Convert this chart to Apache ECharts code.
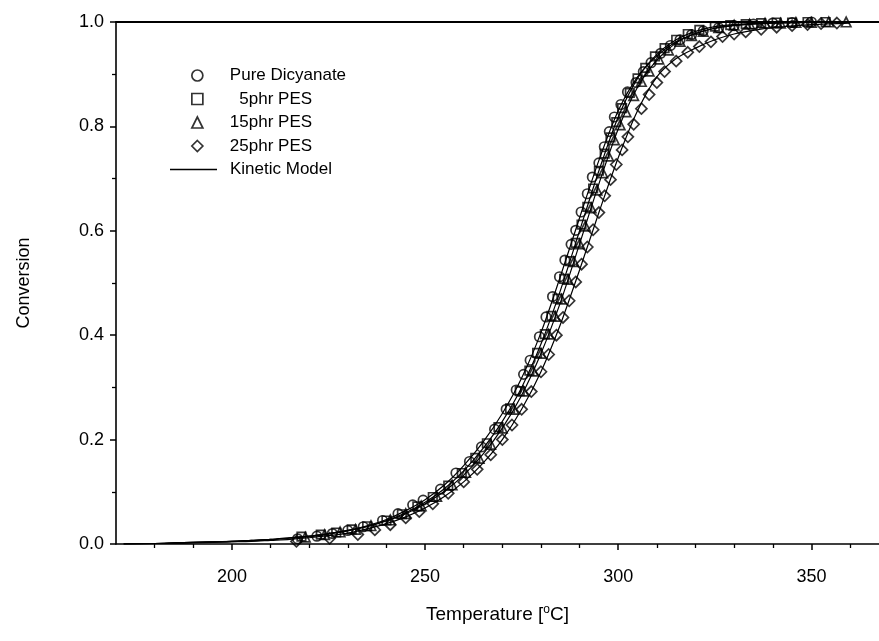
<!DOCTYPE html>
<html>
<head>
<meta charset="utf-8">
<script src="https://cdn.jsdelivr.net/npm/echarts@6/dist/echarts.min.js"></script>
<style>html,body{margin:0;padding:0;background:#fff}#c{width:879px;height:641px}</style>
</head>
<body>
<div id="c"></div>
<script>
// ---- data (temperature in °C, conversion) ----
var seriesNames = ['Pure Dicyanate', '  5phr PES', '15phr PES', '25phr PES'];
var modelName = 'Kinetic Model';
var xMajorTicks = [200, 250, 300, 350];
var xMinorTicks = [180, 190, 210, 220, 230, 240, 260, 270, 280, 290, 310, 320, 330, 340, 360];

var pureData = [[217,0.010],[222,0.015],[226,0.020],[230,0.026],[234,0.033],[239,0.045],[243,0.058],[246.8,0.075],[249.5,0.084],[254,0.105],[258,0.136],[261.5,0.158],[264.6,0.186],[268,0.220],[271,0.258],[273.6,0.295],[275.5,0.325],[277.2,0.352],[279.6,0.397],[281.3,0.435],[283,0.474],[284.8,0.512],[286.2,0.544],[287.8,0.574],[289,0.601],[290.4,0.636],[292,0.671],[293.3,0.703],[295,0.730],[296.4,0.761],[297.7,0.790],[299,0.818],[300.7,0.842],[302.4,0.866],[304.6,0.884],[306.5,0.905],[308.5,0.922],[311,0.940],[313.5,0.955],[316,0.966],[319,0.976],[322,0.983],[326,0.989],[330,0.993],[335,0.996],[340,0.998],[345,0.999],[350,1.0]];
var phr5Data = [[218,0.014],[223,0.018],[227,0.022],[231,0.028],[235,0.034],[240,0.045],[244,0.057],[248,0.072],[252,0.090],[256,0.112],[259.5,0.136],[263,0.165],[266,0.193],[269,0.224],[272,0.260],[274.5,0.293],[277,0.332],[279,0.366],[281,0.402],[282.7,0.437],[284.3,0.470],[286,0.508],[287.5,0.542],[289,0.577],[290.5,0.612],[292,0.646],[293.5,0.681],[295,0.715],[296.5,0.748],[298,0.779],[299.5,0.808],[301,0.835],[303,0.864],[305,0.892],[307,0.912],[309.5,0.934],[312,0.950],[315,0.966],[318,0.977],[321,0.985],[325,0.991],[329,0.994],[333,0.996],[337,0.998],[341,0.999],[345,0.999],[349,1.0],[353.7,1.0]];
var phr15Data = [[219,0.013],[224,0.018],[228,0.023],[232,0.028],[236,0.035],[241,0.046],[245,0.058],[249,0.073],[253,0.091],[257,0.113],[260.5,0.137],[264,0.164],[267,0.191],[270,0.222],[273,0.258],[275.5,0.293],[278,0.331],[280,0.365],[282,0.402],[283.7,0.436],[285.3,0.469],[287,0.507],[288.5,0.541],[290,0.575],[291.5,0.609],[293,0.644],[294.5,0.678],[296,0.711],[297.5,0.743],[299,0.774],[300.5,0.803],[302,0.828],[304,0.859],[306,0.886],[308,0.906],[310.5,0.929],[313,0.946],[316,0.963],[319,0.974],[322,0.982],[326,0.989],[330,0.994],[334,0.996],[338,0.998],[342,0.998],[346,0.999],[350,0.999],[354.5,1.0],[359,1.0]];
var phr25Data = [[216.7,0.005],[225.3,0.011],[232.6,0.018],[237,0.027],[241,0.037],[245,0.050],[248.5,0.062],[252,0.077],[256,0.097],[260,0.119],[263.5,0.143],[267,0.171],[270,0.200],[272.5,0.228],[275,0.258],[277.5,0.292],[280,0.330],[282,0.363],[284,0.400],[285.7,0.434],[287.3,0.466],[289,0.502],[290.5,0.536],[292,0.569],[293.5,0.602],[295,0.635],[296.5,0.667],[298,0.698],[299.5,0.727],[301,0.755],[302.5,0.780],[304,0.804],[306,0.834],[308,0.861],[310,0.884],[312,0.905],[315,0.925],[318,0.942],[321,0.953],[324,0.962],[327,0.972],[330,0.977],[333,0.981],[337,0.986],[341,0.990],[345,0.993],[349,0.995],[352.5,0.997],[356.6,0.998]];

var modelPure = [[172,0.000],[180,0.001],[185,0.002],[190,0.003],[195,0.004],[200,0.005],[205,0.007],[210,0.009],[215,0.012],[220,0.015],[225,0.020],[230,0.026],[235,0.035],[240,0.047],[245,0.064],[250,0.085],[255,0.113],[260,0.150],[265,0.195],[270,0.250],[275,0.318],[280,0.405],[285,0.512],[290,0.625],[295,0.735],[300,0.830],[305,0.895],[310,0.935],[315,0.962],[320,0.978],[325,0.988],[330,0.993],[335,0.996],[340,0.998],[350,0.999],[360,1.0]];
var model5 = [[172,0.000],[180,0.001],[185,0.002],[190,0.003],[195,0.004],[200,0.005],[205,0.007],[210,0.009],[215,0.012],[220,0.015],[225,0.020],[230,0.026],[235,0.034],[240,0.045],[245,0.060],[250,0.080],[255,0.106],[260,0.140],[265,0.183],[270,0.235],[275,0.300],[280,0.383],[285,0.485],[290,0.600],[295,0.715],[300,0.818],[305,0.892],[310,0.938],[315,0.966],[320,0.982],[325,0.991],[330,0.995],[335,0.997],[340,0.999],[350,1.0],[360,1.0]];
var model15 = [[172,0.000],[180,0.001],[185,0.002],[190,0.003],[195,0.004],[200,0.005],[205,0.006],[210,0.008],[215,0.011],[220,0.014],[225,0.019],[230,0.025],[235,0.033],[240,0.044],[245,0.058],[250,0.077],[255,0.101],[260,0.132],[265,0.172],[270,0.222],[275,0.285],[280,0.365],[285,0.462],[290,0.575],[295,0.690],[300,0.795],[305,0.875],[310,0.927],[315,0.960],[320,0.978],[325,0.988],[330,0.994],[335,0.997],[340,0.998],[350,0.999],[360,1.0]];
var model25 = [[172,0.000],[180,0.001],[185,0.001],[190,0.002],[195,0.003],[200,0.004],[205,0.005],[210,0.007],[215,0.009],[220,0.012],[225,0.016],[230,0.021],[235,0.029],[240,0.039],[245,0.052],[250,0.069],[255,0.091],[260,0.119],[265,0.155],[270,0.200],[275,0.258],[280,0.330],[285,0.420],[290,0.525],[295,0.635],[300,0.740],[305,0.830],[310,0.895],[315,0.930],[320,0.950],[325,0.966],[330,0.977],[335,0.984],[340,0.989],[350,0.995],[360,0.998]];

var scatterSets = [pureData, phr5Data, phr15Data, phr25Data];
var modelSets = [modelPure, model5, model15, model25];
var symbols = ['circle', 'rect', 'triangle', 'diamond'];
var symbolSizes = [9.5, 8.5, 9.5, 11];

var FONT = 'Liberation Sans, Arial, sans-serif';
var X_MIN = 170, X_MAX = 367.5;
var chart = echarts.init(document.getElementById('c'), null, {renderer: 'canvas'});

var series = [];
modelSets.forEach(function (d) {
  series.push({
    name: modelName, type: 'line', data: d, smooth: 0.3, symbol: 'none', showSymbol: false,
    lineStyle: {color: '#000', width: 1.2}, itemStyle: {color: '#000'}, z: 2, silent: true
  });
});
scatterSets.forEach(function (d, i) {
  series.push({
    name: seriesNames[i], type: 'scatter', data: d,
    symbol: symbols[i], symbolSize: symbolSizes[i],
    itemStyle: {color: 'rgba(255,255,255,0)', borderColor: '#000', borderWidth: 1.7},
    z: 3
  });
});

chart.setOption({
  animation: false,
  backgroundColor: '#fff',
  grid: {left: 116, top: 22, right: 0, bottom: 97, show: false, containLabel: false},
  legend: [{
    data: seriesNames.map(function (n, i) { return {name: n, icon: symbols[i]}; }),
    orient: 'vertical', left: 186, top: 62, itemWidth: 11, itemHeight: 11, itemGap: 6.5,
    textStyle: {fontFamily: FONT, fontSize: 17, color: '#000', padding: [0, 0, 0, 22]},
    itemStyle: {color: 'rgba(255,255,255,0)', borderColor: '#000', borderWidth: 1.7},
    selectedMode: false
  }, {
    data: [{name: modelName, icon: 'path://M0,0L47,0L47,1.4L0,1.4Z'}],
    orient: 'vertical', left: 165, top: 156, itemWidth: 47, itemHeight: 1.4,
    textStyle: {fontFamily: FONT, fontSize: 17, color: '#000', padding: [0, 0, 0, 8]},
    itemStyle: {color: '#000', borderWidth: 0},
    selectedMode: false
  }],
  xAxis: [{
    type: 'value', min: X_MIN, max: X_MAX,
    name: 'Temperature [{s|o}C]', nameLocation: 'middle', nameGap: 60,
    nameTextStyle: {fontFamily: FONT, fontSize: 19, color: '#000', rich: {s: {fontFamily: FONT, fontSize: 12, color: '#000', verticalAlign: 'top', padding: [0, 0, 10, 0]}}},
    axisLine: {lineStyle: {color: '#000', width: 1.6}},
    axisTick: {customValues: xMajorTicks, length: 6, inside: false, lineStyle: {color: '#000', width: 1.5}},
    axisLabel: {customValues: xMajorTicks, fontFamily: FONT, fontSize: 18, color: '#000', margin: 24},
    splitLine: {show: false}
  }, {
    type: 'value', min: X_MIN, max: X_MAX, position: 'bottom', gridIndex: 0,
    axisLine: {show: false},
    axisTick: {customValues: xMinorTicks, length: 4, inside: false, lineStyle: {color: '#000', width: 1.3}},
    axisLabel: {show: false},
    splitLine: {show: false}
  }, {
    type: 'value', min: X_MIN, max: X_MAX, position: 'top', gridIndex: 0,
    axisLine: {show: true, lineStyle: {color: '#000', width: 1.8}},
    axisTick: {show: false},
    axisLabel: {show: false},
    splitLine: {show: false}
  }],
  yAxis: {
    type: 'value', min: 0, max: 1, interval: 0.2,
    name: 'Conversion', nameLocation: 'middle', nameGap: 83,
    nameTextStyle: {fontFamily: FONT, fontSize: 18, color: '#000'},
    axisLine: {show: true, lineStyle: {color: '#000', width: 1.6}},
    axisTick: {show: true, length: 6, lineStyle: {color: '#000', width: 1.5}},
    minorTick: {show: true, splitNumber: 2, length: 4, lineStyle: {color: '#000', width: 1.3}},
    axisLabel: {fontFamily: FONT, fontSize: 18, color: '#000', margin: 12, formatter: function (v) { return v.toFixed(1); }},
    splitLine: {show: false}
  },
  series: series
});
</script>
</body>
</html>
